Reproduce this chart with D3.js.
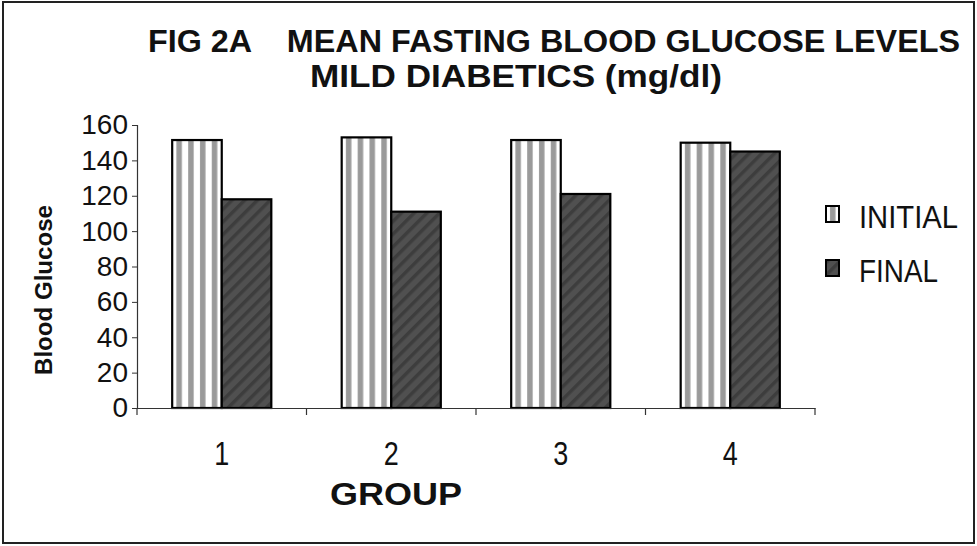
<!DOCTYPE html>
<html>
<head>
<meta charset="utf-8">
<script src="https://cdn.jsdelivr.net/npm/d3@7/dist/d3.min.js"></script>
<style>
  html, body { margin: 0; padding: 0; background: #fff; }
  svg { display: block; }
  text { font-family: "Liberation Sans", Arial, sans-serif; fill: #111; }
</style>
</head>
<body>
<script>
// Mean fasting blood glucose, mild diabetics (mg/dl)
const groups = ["1", "2", "3", "4"];
const seriesNames = ["INITIAL", "FINAL"];
const initialValues = [151.5, 153, 151.5, 150];
const finalValues = [118, 111, 121, 145];
const yTicks = [0, 20, 40, 60, 80, 100, 120, 140, 160];

const W = 977, H = 546;
const margin = { left: 137, right: 162, top: 125, bottom: 138 };
const FONT = "'Liberation Sans', Arial, sans-serif";

const svg = d3.select("body").append("svg")
  .attr("width", W).attr("height", H);

// fill patterns: vertical stripes for INITIAL, dark diagonal hatch for FINAL
const defs = svg.append("defs");
const pInit = defs.append("pattern")
  .attr("id", "pat-initial").attr("patternUnits", "userSpaceOnUse")
  .attr("width", 11.8).attr("height", 10);
pInit.append("rect").attr("width", 11.8).attr("height", 10).attr("fill", "#fff");
pInit.append("rect").attr("x", 4).attr("width", 5.5).attr("height", 10).attr("fill", "#9a9a9a");

const pFinal = defs.append("pattern")
  .attr("id", "pat-final").attr("patternUnits", "userSpaceOnUse")
  .attr("width", 9).attr("height", 9)
  .attr("patternTransform", "rotate(45)");
pFinal.append("rect").attr("width", 9).attr("height", 9).attr("fill", "#505050");
pFinal.append("rect").attr("width", 3.5).attr("height", 9).attr("fill", "#3d3d3d");

// outer frame
svg.append("rect")
  .attr("x", 3).attr("y", 2).attr("width", 971).attr("height", 541)
  .attr("fill", "none").attr("stroke", "#222").attr("stroke-width", 2);

const x0 = d3.scaleBand()
  .domain(groups)
  .range([margin.left, W - margin.right])
  .paddingInner(0).paddingOuter(0);

const x1 = d3.scaleBand()
  .domain(seriesNames)
  .range([0, x0.bandwidth()])
  .paddingOuter(0.71).paddingInner(0);

const y = d3.scaleLinear()
  .domain([0, 160])
  .range([H - margin.bottom, margin.top]);

const rows = groups.map((g, i) => ({
  group: g,
  values: [
    { key: "INITIAL", value: initialValues[i] },
    { key: "FINAL", value: finalValues[i] }
  ]
}));

// bars
const gGroups = svg.append("g").selectAll("g")
  .data(rows).join("g")
  .attr("transform", d => `translate(${x0(d.group)},0)`);

gGroups.selectAll("rect")
  .data(d => d.values).join("rect")
  .attr("x", d => x1(d.key))
  .attr("y", d => y(d.value))
  .attr("width", x1.bandwidth())
  .attr("height", d => y(0) - y(d.value))
  .attr("fill", d => d.key === "INITIAL" ? "url(#pat-initial)" : "url(#pat-final)")
  .attr("stroke", "#000")
  .attr("stroke-width", 2.2);

// y axis
const yAxis = svg.append("g")
  .attr("transform", `translate(${margin.left},0)`)
  .call(d3.axisLeft(y).tickValues(yTicks).tickSize(5).tickPadding(4));
yAxis.select(".domain").attr("stroke", "#333").attr("stroke-width", 1.2);
yAxis.selectAll(".tick line").attr("stroke", "#333");
yAxis.selectAll(".tick text")
  .style("font-size", "28px").style("font-family", FONT)
  .attr("fill", "#111");

// x axis: labels centred on groups, tick marks at group boundaries
const xAxis = svg.append("g")
  .attr("transform", `translate(0,${y(0)})`)
  .call(d3.axisBottom(x0).tickSize(0).tickPadding(34).tickSizeOuter(0));
xAxis.select(".domain").attr("stroke", "#333").attr("stroke-width", 1.2);
xAxis.selectAll(".tick text")
  .style("font-size", "33px").style("font-family", FONT)
  .attr("textLength", 15).attr("lengthAdjust", "spacingAndGlyphs")
  .attr("fill", "#111");

const boundaries = groups.map(g => x0(g)).concat([x0(groups[groups.length - 1]) + x0.bandwidth()]);
svg.append("g").selectAll("line")
  .data(boundaries).join("line")
  .attr("x1", d => d).attr("x2", d => d)
  .attr("y1", y(0)).attr("y2", y(0) + 7)
  .attr("stroke", "#333").attr("stroke-width", 1.2);

// titles
svg.append("text")
  .attr("x", 148).attr("y", 52)
  .attr("textLength", 812).attr("lengthAdjust", "spacingAndGlyphs")
  .style("font-size", "31px").style("font-weight", "bold")
  .attr("xml:space", "preserve")
  .text("FIG 2A    MEAN FASTING BLOOD GLUCOSE LEVELS");

svg.append("text")
  .attr("x", 310).attr("y", 87)
  .attr("textLength", 412).attr("lengthAdjust", "spacingAndGlyphs")
  .style("font-size", "31px").style("font-weight", "bold")
  .text("MILD DIABETICS (mg/dl)");

// axis titles
svg.append("text")
  .attr("transform", "translate(52,290) rotate(-90)")
  .attr("text-anchor", "middle")
  .attr("textLength", 170).attr("lengthAdjust", "spacingAndGlyphs")
  .style("font-size", "23px").style("font-weight", "bold")
  .text("Blood Glucose");

svg.append("text")
  .attr("x", 330).attr("y", 505)
  .attr("textLength", 132).attr("lengthAdjust", "spacingAndGlyphs")
  .style("font-size", "32px").style("font-weight", "bold")
  .text("GROUP");

// legend
const legendWidths = { INITIAL: 99, FINAL: 79 };
const legend = svg.append("g").attr("transform", "translate(826,206)");
const legItems = legend.selectAll("g")
  .data(seriesNames).join("g")
  .attr("transform", (d, i) => `translate(0,${i * 54})`);
legItems.append("rect")
  .attr("width", 13).attr("height", 16)
  .attr("fill", d => d === "INITIAL" ? "url(#pat-initial)" : "url(#pat-final)")
  .attr("stroke", "#000").attr("stroke-width", 2);
legItems.append("text")
  .attr("x", 33).attr("y", 22)
  .style("font-size", "31px")
  .attr("textLength", d => legendWidths[d]).attr("lengthAdjust", "spacingAndGlyphs")
  .text(d => d);
</script>
</body>
</html>
